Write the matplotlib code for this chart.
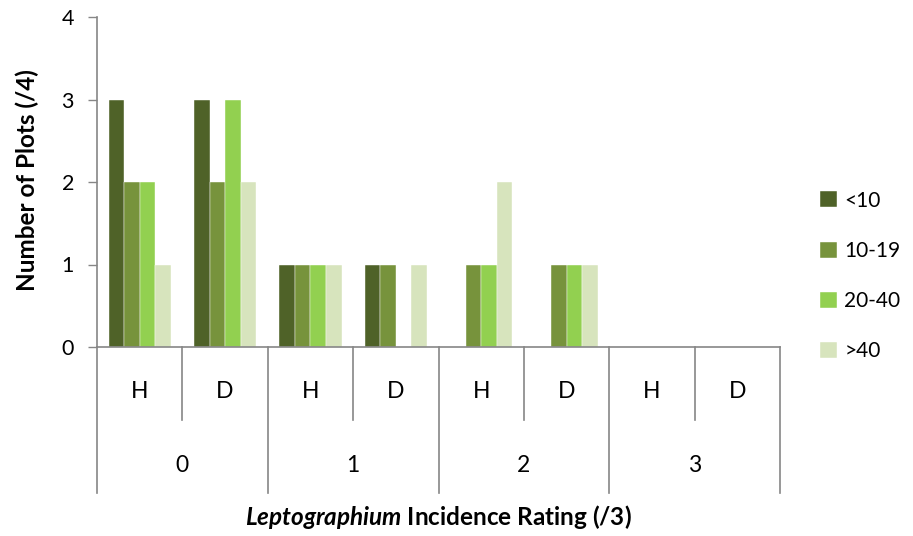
import matplotlib
matplotlib.use('Agg')
import matplotlib.pyplot as plt
import numpy as np

plt.rcParams['font.family'] = ['Lato', 'DejaVu Sans']
plt.rcParams['mathtext.fontset'] = 'custom'
plt.rcParams['mathtext.it'] = 'Lato:italic:bold'
plt.rcParams['mathtext.rm'] = 'Lato:bold'

# data
groups = ['0', '1', '2', '3']
subcats = ['H', 'D']
series_names = ['<10', '10-19', '20-40', '>40']
lt10 = [3, 3, 1, 1, 0, 0, 0, 0]
s10_19 = [2, 2, 1, 1, 1, 1, 0, 0]
s20_40 = [2, 3, 1, 0, 1, 1, 0, 0]
gt40 = [1, 2, 1, 1, 2, 1, 0, 0]
series_vals = [lt10, s10_19, s20_40, gt40]
colors = ['#4F6228', '#77933C', '#92D050', '#D7E4BD']

W, H = 913, 536
fig = plt.figure(figsize=(W / 100, H / 100), dpi=100)
ax = fig.add_axes([97 / W, (H - 347) / H, (780 - 97) / W, 330 / H])

ncat = len(groups) * len(subcats)
x = np.arange(ncat) + 0.5
bw = 0.182
for i, (name, vals) in enumerate(zip(series_names, series_vals)):
    ax.bar(x + (i - 1.5) * bw, vals, width=bw, color=colors[i], label=name,
           edgecolor='white', linewidth=0.3)

ax.set_xlim(0, ncat)
ax.set_ylim(0, 4)
ax.set_yticks([0, 1, 2, 3, 4])
ax.tick_params(axis='y', labelsize=15.5, length=6.5, width=1, color='#868686', pad=10)
ax.set_xticks([])
for s in ['top', 'right']:
    ax.spines[s].set_visible(False)
for s in ['left', 'bottom']:
    ax.spines[s].set_color('#868686')
    ax.spines[s].set_linewidth(1.2)

# multi-level category axis
tr = ax.get_xaxis_transform()
gray = '#868686'
for k in range(ncat + 1):
    y_end = -0.442 if k % 2 == 0 else -0.221
    ax.plot([k, k], [0, y_end], color=gray, lw=1.2, transform=tr, clip_on=False)
for k in range(ncat):
    ax.text(k + 0.5, -0.136, subcats[k % 2], transform=tr, ha='center', va='center', fontsize=16.5)
for g, name in enumerate(groups):
    ax.text(2 * g + 1, -0.358, name, transform=tr, ha='center', va='center', fontsize=16.5)

fig.text((97 + 780) / 2 / W, 1 - 517 / H, r'$Leptographium$ Incidence Rating (/3)',
         ha='center', va='center', fontsize=17.5, fontweight='bold')
fig.text(27 / W, 1 - 180 / H, 'Number of Plots (/4)', rotation=90, ha='center', va='center',
         fontsize=17.5, fontweight='bold')

ax.legend(loc='center left', bbox_to_anchor=(810 / W, 1 - 276 / H), bbox_transform=fig.transFigure,
          frameon=False, fontsize=15, handlelength=0.8, handleheight=0.8, handletextpad=0.35,
          labelspacing=1.45, borderpad=0)

fig.savefig('out.png', dpi=100, facecolor='w')
